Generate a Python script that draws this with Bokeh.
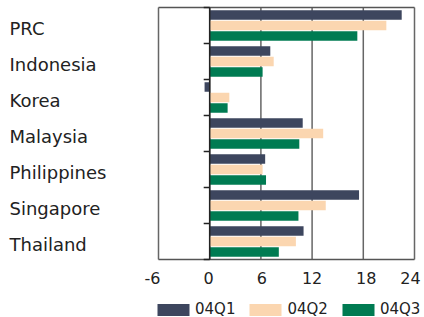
from bokeh.plotting import figure
from bokeh.models import ColumnDataSource, Range1d, Legend, LegendItem
from bokeh.core.properties import value
from bokeh.embed import file_html
from bokeh.resources import INLINE

countries = ["PRC", "Indonesia", "Korea", "Malaysia", "Philippines", "Singapore", "Thailand"]
q1 = [22.5, 7.1, -0.6, 10.9, 6.5, 17.5, 11.0]
q2 = [20.7, 7.5, 2.3, 13.3, 6.2, 13.6, 10.1]
q3 = [17.3, 6.2, 2.1, 10.5, 6.6, 10.4, 8.1]
series_names = ["04Q1", "04Q2", "04Q3"]
x_ticks = [-6, 0, 6, 12, 18, 24]
x_tick_labels = ["-6", "0", "6", "12", "18", "24"]

colors = ["#3d465e", "#fbd6b0", "#007b52"]
FONT = value("DejaVu Sans")

W, H = 424, 317
# plot area (pixels) inside the canvas
AX_L, AX_R, AX_T, AX_B = 158, 414, 7, 259

n = len(countries)
xmin, xmax = x_ticks[0], x_ticks[-1]
ppx = (AX_R - AX_L) / (xmax - xmin)
ppy = (AX_B - AX_T) / n
x_range = Range1d(xmin - AX_L / ppx, xmax + (W - AX_R) / ppx)
y_range = Range1d(n + (H - AX_B) / ppy, -AX_T / ppy)

pos = [i + 0.5 for i in range(n)]
src = ColumnDataSource(dict(country=countries, pos=pos, q1=q1, q2=q2, q3=q3,
                            y1=[p - 0.29 for p in pos], y2=pos, y3=[p + 0.29 for p in pos]))

p = figure(width=W, height=H, output_backend="svg", toolbar_location=None,
           x_range=x_range, y_range=y_range,
           min_border_left=0, min_border_right=0, min_border_top=0, min_border_bottom=0)
p.axis.visible = False
p.grid.visible = False
p.outline_line_color = None

# grid lines / frame sides
p.segment(x0=x_ticks, x1=x_ticks, y0=[0] * len(x_ticks), y1=[n] * len(x_ticks),
          line_color="#666666", line_width=1.5)
p.segment(x0=[xmin, xmin], x1=[xmax, xmax], y0=[0, n], y1=[0, n],
          line_color="#555555", line_width=1.5)

renderers = []
for key, ykey, c in zip(["q1", "q2", "q3"], ["y1", "y2", "y3"], colors):
    r = p.hbar(y=ykey, left=0, right=key, height=0.265, source=src,
               fill_color=c, line_color=None)
    renderers.append(r)

# zero axis with category separator ticks
bounds = list(range(n + 1))
p.segment(x0=[-6 / ppx] * len(bounds), x1=[0] * len(bounds), y0=bounds, y1=bounds,
          line_color="#222222", line_width=1.5)
p.segment(x0=[0], x1=[0], y0=[0], y1=[n], line_color="#222222", line_width=1.5)

# category labels
p.text(x=x_range.start, y="pos", text="country", source=src, x_offset=9, y_offset=3,
       text_font=FONT, text_font_size="18px", text_color="#222222",
       text_baseline="middle", text_align="left")

# x tick labels (end labels nudged inward, as in the original)
tick_src = ColumnDataSource(dict(x=x_ticks, y=[n] * len(x_ticks), t=x_tick_labels,
                                 dx=[-6, -1, 1, 0, 3, -4]))
p.text(x="x", y="y", text="t", source=tick_src, x_offset="dx", y_offset=18,
       text_font=FONT, text_font_size="16px", text_color="#222222",
       text_baseline="middle", text_align="center")

legend = Legend(items=[LegendItem(label=s, renderers=[r]) for s, r in zip(series_names, renderers)],
                orientation="horizontal", location=(153, -1),
                glyph_width=40, glyph_height=15, label_standoff=2, spacing=10,
                label_text_font="DejaVu Sans", label_text_font_size="15px",
                label_text_color="#222222",
                border_line_color=None, background_fill_alpha=0, padding=0, margin=0)
p.add_layout(legend)

open("out.html", "w").write(file_html(p, INLINE))
